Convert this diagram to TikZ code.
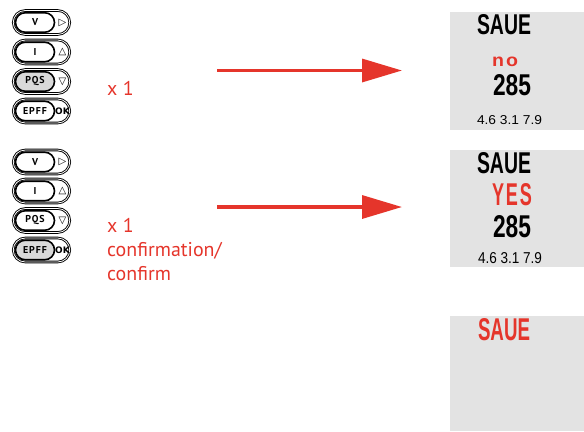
\documentclass[tikz,border=0pt]{standalone}
\usepackage{fontspec}
\usepackage{graphicx}
\setmainfont{PT Sans}
\newfontfamily\segfont{Liberation Sans}
\newfontfamily\symfont{DejaVu Sans}
\usetikzlibrary{arrows.meta,shapes.misc}
\definecolor{myred}{HTML}{E5352B}
\definecolor{scrgrey}{HTML}{E3E3E3}
\definecolor{btngrey}{HTML}{D9D9D9}
\newcommand\mybtn[5]{%
  \node[outerbtn] (#1) at (41.5,#2) {};
  \node[innerbtn, fill=#5] (#1l) at (35,#2) {#3};
  \node[symb] (#1s) at (62.5,#2) {#4};
}
\newcommand\segtxt[3]{\resizebox{#1bp}{#2bp}{\segfont\fontsize{28}{28}\selectfont #3}}
\newcommand\segbtxt[3]{\resizebox{#1bp}{#2bp}{\segfont\bfseries\fontsize{28}{28}\selectfont #3}}
\newcommand\oktxt{\fontsize{9}{9}\selectfont\bfseries OK}
\begin{document}
\begin{tikzpicture}[x=1bp,y=-1bp,
  outerbtn/.style={rounded rectangle, draw=black, line width=0.9bp, double=white, double distance=0.8bp, minimum width=56.5bp, minimum height=24bp, inner sep=0pt},
  innerbtn/.style={rounded rectangle, draw=black, line width=1.6bp, minimum width=39bp, minimum height=19.5bp, inner sep=0pt, font=\fontsize{10}{10}\selectfont\bfseries\addfontfeature{LetterSpace=9}},
  symb/.style={inner sep=0pt, font=\symfont\fontsize{10}{10}\selectfont},
  lbl/.style={text=myred, font=\fontsize{20}{24}\selectfont, anchor=base west, align=left, inner sep=0pt},
  seg/.style={anchor=base, inner sep=0pt},
  screen/.style={fill=scrgrey, draw=none, inner sep=0pt, anchor=north west},
  arr/.style={draw=myred, line width=3.3bp, -{Triangle[length=40bp,width=23bp]}}
]
\useasboundingbox (0,0) rectangle (584,431);
% screens
\node[screen, minimum width=134bp, minimum height=118bp] (s1) at (450,12) {};
\node[screen, minimum width=134bp, minimum height=117bp] (s2) at (450,150) {};
\node[screen, minimum width=134bp, minimum height=115bp] (s3) at (450,316) {};
% buttons group 1
\mybtn{av}{22.5}{V}{▷}{white}
\mybtn{ai}{52}{I}{△}{white}
\mybtn{ap}{81.5}{PQS}{▽}{btngrey}
\mybtn{ae}{111}{EPFF}{\oktxt}{white}
% buttons group 2
\mybtn{bv}{162}{V}{▷}{white}
\mybtn{bi}{191}{I}{△}{white}
\mybtn{bp}{220.5}{PQS}{▽}{white}
\mybtn{be}{250}{EPFF}{\oktxt}{btngrey}
% labels
\node[lbl] (l1) at (107,95) {x 1};
\node[lbl] (l2) at (107,280) {x 1\\confirmation/\\confirm};
% arrows
\coordinate (a1s) at (217,70.5);
\coordinate (a1e) at (402,70.5);
\coordinate (a2s) at (217,207);
\coordinate (a2e) at (402,207);
\draw[arr] (a1s) -- (a1e);
\draw[arr] (a2s) -- (a2e);
% screen 1 texts
\node[seg] (t11) at (504,34) {\segbtxt{54}{20}{SAUE}};
\node[seg, text=myred] (t12) at (505,66) {\segbtxt{26}{9.5}{n\kern3pt o}};
\node[seg] (t13) at (512,95) {\segbtxt{38}{21}{285}};
\node[seg] (t14) at (509.5,124) {\segtxt{65}{9}{4.6 3.1 7.9}};
% screen 2 texts
\node[seg] (t21) at (504,173) {\segbtxt{54}{21}{SAUE}};
\node[seg, text=myred] (t22) at (512,205) {\segbtxt{40}{22}{Y\kern3pt E\kern3pt S}};
\node[seg] (t23) at (512,237) {\segbtxt{38}{22}{285}};
\node[seg] (t24) at (510,263) {\segtxt{64}{11}{4.6 3.1 7.9}};
% screen 3 text
\node[seg, text=myred] (t31) at (504,340) {\segbtxt{52}{22}{SAUE}};
\end{tikzpicture}
\end{document}
